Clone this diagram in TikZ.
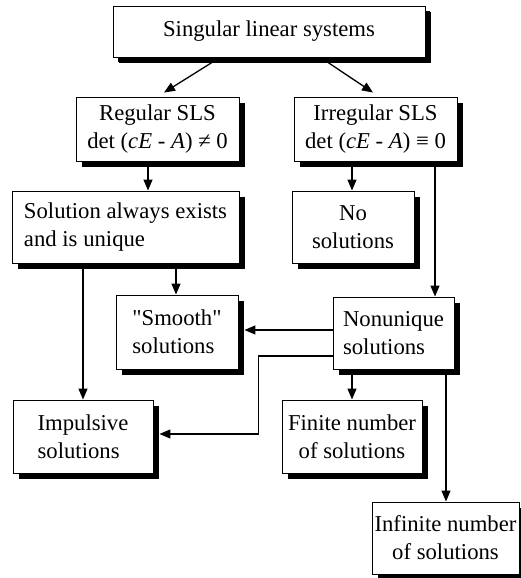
\documentclass[tikz,border=0pt]{standalone}
\usepackage{fontspec}
\newfontfamily\lsf{Liberation Serif}
\usetikzlibrary{arrows.meta,shadows,calc}
\begin{document}
\begin{tikzpicture}[x=1pt,y=-1pt,
  box/.style={draw,fill=white,line width=0.9pt,inner sep=0pt,
    font=\lsf\fontsize{22.7}{28}\selectfont,
    drop shadow={shadow xshift=6pt,shadow yshift=-6pt,fill=black,opacity=1}},
  arr/.style={line width=1.3pt,-{Triangle[length=11pt,width=9pt]}}]
\useasboundingbox (0,0) rectangle (521,578);
\node[box,minimum width=312,minimum height=51,
  drop shadow={shadow xshift=5pt,shadow yshift=-5pt,fill=black,opacity=1}] (top) at (269,31.5) {Singular linear systems};
\node[box,align=center,minimum width=163,minimum height=64] (reg) at (157.5,129) {Regular SLS\\det (\textit{cE} - \textit{A}) ≠ 0};
\node[box,align=center,minimum width=163,minimum height=64] (irr) at (375.5,129) {Irregular SLS\\det (\textit{cE} - \textit{A}) ≡ 0};
\node[box,align=left,minimum width=227,minimum height=72] (sol) at (125.5,227) {Solution always exists\\and is unique};
\node[box,align=center,minimum width=122,minimum height=72] (nos) at (353,227) {No\\solutions};
\node[box,align=left,minimum width=122,minimum height=74] (smo) at (177,332) {"Smooth"\\solutions};
\node[box,align=left,minimum width=121,minimum height=72] (non) at (393.5,333) {Nonunique\\solutions};
\node[box,align=left,minimum width=140,minimum height=73] (imp) at (83,436.5) {Impulsive\\solutions};
\node[box,align=center,minimum width=140,minimum height=73] (fin) at (352,436.5) {Finite number\\of solutions};
\node[box,align=center,minimum width=147,minimum height=72] (inf) at (445.5,538) {Infinite number\\of solutions};

\draw[arr] ($(top.south)+(-57,5)$) -- ($(reg.north)+(6.5,-4)$);
\draw[arr] ($(top.south)+(59,5)$) -- ($(irr.north)+(-2.5,-4)$);
\coordinate (r1) at ($(reg.south)+(-9.5,0)$);
\draw[arr] (r1) -- (r1 |- sol.north);
\coordinate (i1) at ($(irr.south)+(-23.5,0)$);
\draw[arr] (i1) -- (i1 |- nos.north);
\coordinate (i2) at ($(irr.south)+(59.5,0)$);
\draw[arr] (i2) -- (i2 |- non.north);
\coordinate (s1) at ($(sol.south)+(50.5,0)$);
\draw[arr] (s1) -- (s1 |- smo.north);
\coordinate (s2) at ($(sol.south)+(-42.5,0)$);
\draw[arr] (s2) -- (s2 |- imp.north);
\coordinate (n1) at ($(non.west)+(0,-3)$);
\draw[arr] (n1) -- ($(n1 -| smo.east)+(6,0)$);
\coordinate (n2) at ($(non.west)+(0,23)$);
\draw[arr] (n2) -- ++(-74,0) |- ($(imp.east)+(6,-2.5)$);
\coordinate (n3) at ($(non.south)+(-41.5,0)$);
\draw[arr] (n3) -- (n3 |- fin.north);
\coordinate (n4) at ($(non.south)+(52.5,0)$);
\draw[arr] (n4) -- (n4 |- inf.north);
\end{tikzpicture}
\end{document}
